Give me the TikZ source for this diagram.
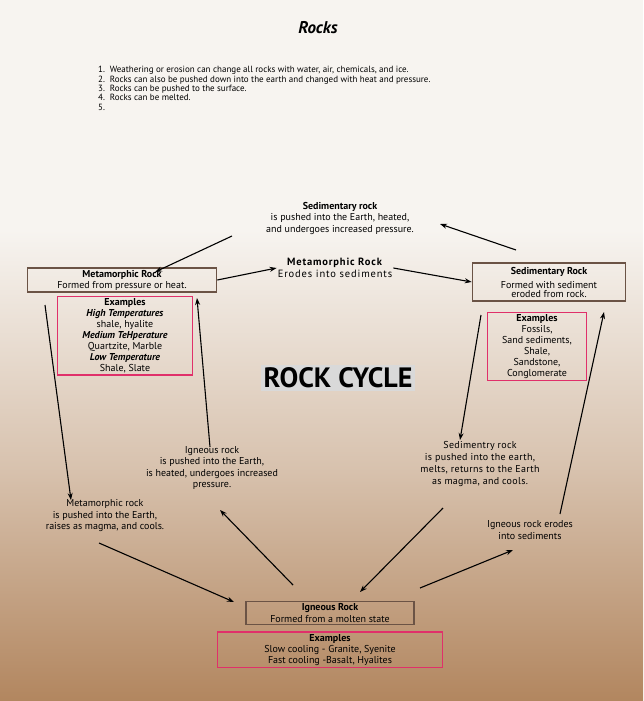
\documentclass[tikz,border=0pt]{standalone}
\usepackage{fontspec}
\setmainfont{PT Sans}
\usetikzlibrary{positioning,calc,arrows.meta}
\definecolor{boxbrown}{HTML}{6B5345}
\definecolor{expink}{HTML}{E0306A}
\definecolor{paper}{RGB}{247,244,240}
\definecolor{soil}{RGB}{178,134,95}
\tikzset{
  arr/.style={-{Stealth[length=7pt,width=5pt]}, line width=1.1pt, black},
  txt/.style={align=center, font=\fontsize{10}{11.5}\selectfont, inner sep=1pt},
  rockbox/.style={draw=boxbrown, line width=1.6pt, align=center, font=\fontsize{10}{11}\selectfont, inner sep=2pt},
  exbox/.style={draw=expink, line width=1.3pt, align=center, font=\fontsize{10}{11}\selectfont, inner sep=2pt},
}
\begin{document}
\begin{tikzpicture}[x=1pt,y=-1pt]
  \useasboundingbox (0,0) rectangle (643,701);
  % background
  \fill[paper] (0,0) rectangle (643,701);
  \shade[top color=paper, bottom color=soil, middle color=paper!55!soil] (0,230) rectangle (643,701);

  \node[font=\fontsize{17}{19}\selectfont\bfseries\itshape] (title) at (318,28) {Rocks};
  \node[anchor=north west, align=left, inner sep=0pt, font=\fontsize{9}{9.4}\selectfont] (facts) at (98,66)
    {1.\ \ Weathering or erosion can change all rocks with water, air, chemicals, and ice.\\
     2.\ \ Rocks can also be pushed down into the earth and changed with heat and pressure.\\
     3.\ \ Rocks can be pushed to the surface.\\
     4.\ \ Rocks can be melted.\\
     5.};

  \node[fill=black!15, inner sep=3pt, font=\fontsize{28}{29}\selectfont\bfseries] (cycle) at (338,378) {ROCK CYCLE};

  % main rock boxes
  \node[rockbox, minimum width=189pt] (metbox) at (122,280) {\textbf{Metamorphic Rock}\\Formed from pressure or heat.};
  \node[rockbox, minimum width=153pt, minimum height=38pt] (sedbox) at (549,282) {\textbf{Sedimentary Rock}\\[3pt]Formed with sediment\\[-2pt]eroded from rock.};
  \node[rockbox, minimum width=168pt] (ignbox) at (330,613) {\textbf{Igneous Rock}\\[1pt]Formed from a molten state};

  % examples
  \node[exbox, minimum width=135pt, below=3pt of metbox.south, xshift=3pt] (metex)
    {\textbf{Examples}\\\textbf{\textit{High Temperatures}}\\shale, hyalite\\\textbf{\textit{Medium TeHperature}}\\Quartzite, Marble\\\textbf{\textit{Low Temperature}}\\Shale, Slate};
  \node[exbox, minimum width=99pt, below=10pt of sedbox.south, xshift=-12pt] (sedex)
    {\textbf{Examples}\\Fossils,\\Sand sediments,\\Shale,\\Sandstone,\\Conglomerate};
  \node[exbox, minimum width=225pt, below=6pt of ignbox.south] (ignex)
    {\textbf{Examples}\\Slow cooling - Granite, Syenite\\Fast cooling -Basalt, Hyalites};

  % process labels
  \node[txt] (sedpush) at (340,218) {\textbf{Sedimentary rock}\\is pushed into the Earth, heated,\\and undergoes increased pressure.};
  \node[txt, font=\fontsize{10.5}{11.5}\selectfont\addfontfeature{LetterSpace=8}] (meterode) at (335,268) {\textbf{Metamorphic Rock}\\Erodes into sediments};
  \node[txt] (ignpush) at (212,468) {Igneous rock\\is pushed into the Earth,\\is heated, undergoes increased\\pressure.};
  \node[txt] (metpush) at (105,516) {Metamorphic rock\\is pushed into the Earth,\\raises as magma, and cools.};
  \node[txt, font=\fontsize{10}{12}\selectfont\addfontfeature{LetterSpace=3}] (sedmelt) at (480,464) {Sedimentry rock\\is pushed into the earth,\\melts, returns to the Earth\\as magma, and cools.};
  \node[txt] (ignerode) at (530,530) {Igneous rock erodes\\into sediments};

  % free ends of the connectors
  \coordinate (a1) at (232,236); \coordinate (a2) at (155,272);
  \coordinate (b1) at (516,250); \coordinate (b2) at (440,224);
  \coordinate (c1) at (45,305);  \coordinate (c2) at (71,500);
  \coordinate (d1) at (210,447); \coordinate (d2) at (197,298);
  \coordinate (e1) at (99,543);  \coordinate (e2) at (234,602);
  \coordinate (f1) at (293,585); \coordinate (f2) at (220,510);
  \coordinate (g1) at (443,508); \coordinate (g2) at (360,592);
  \coordinate (h1) at (420,588); \coordinate (h2) at (513,550);
  \coordinate (i1) at (481,315); \coordinate (i2) at (460,440);
  \coordinate (j1) at (560,514); \coordinate (j2) at (604,312);

  % connectors
  \draw[arr] (a1) -- (a2);
  \draw[arr] (metbox.east) -- (meterode.west);
  \draw[arr] (meterode.east) -- (sedbox.west);
  \draw[arr] (b1) -- (b2);
  \draw[arr] (c1) -- (c2);
  \draw[arr] (d1) -- (d2);
  \draw[arr] (e1) -- (e2);
  \draw[arr] (f1) -- (f2);
  \draw[arr] (g1) -- (g2);
  \draw[arr] (h1) -- (h2);
  \draw[arr] (i1) -- (i2);
  \draw[arr] (j1) -- (j2);
\end{tikzpicture}
\end{document}
